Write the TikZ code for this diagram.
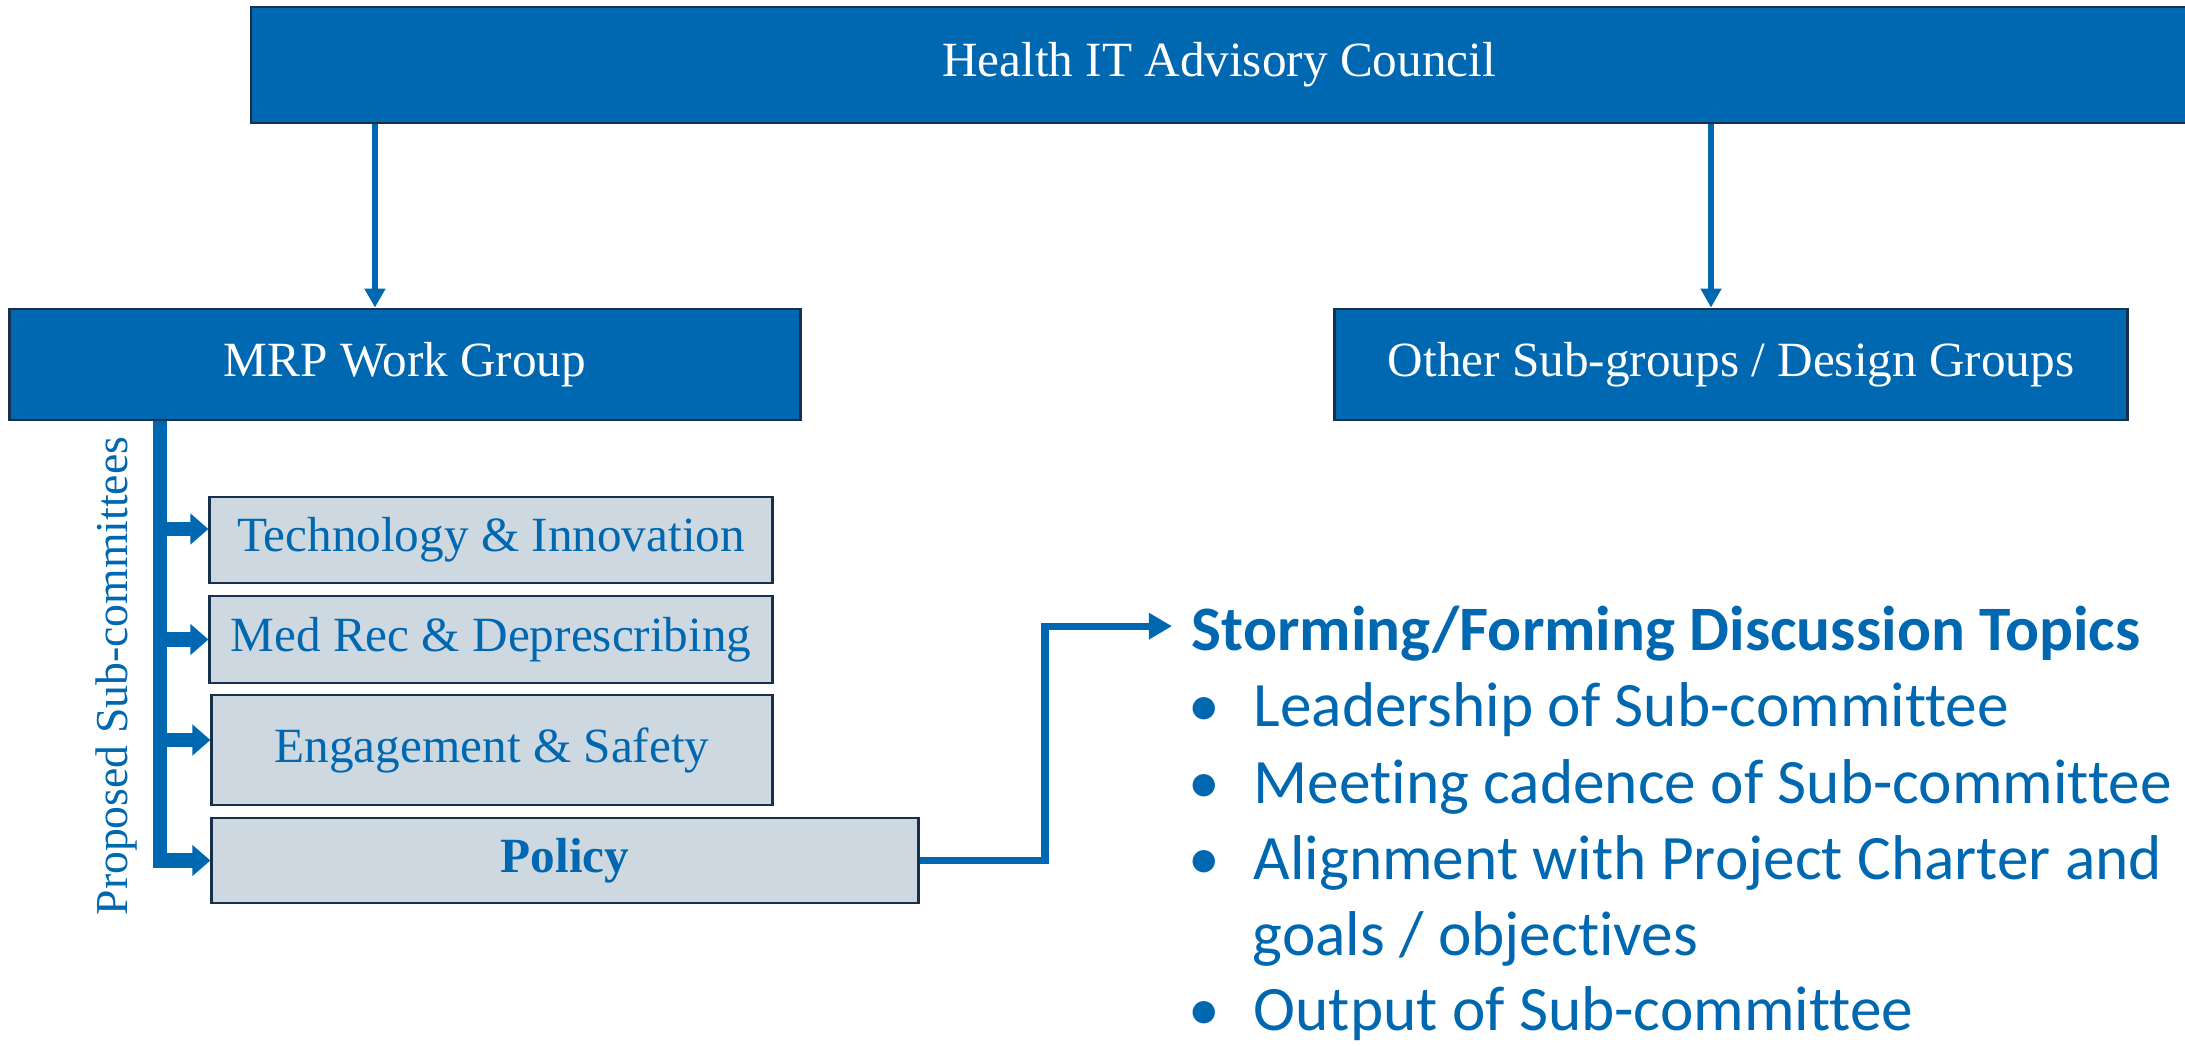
\documentclass[tikz,border=0pt]{standalone}
\usepackage{fontspec}
\setmainfont{Liberation Serif}
\newfontfamily\topicfont{Carlito}[Ligatures=NoCommon]
\usetikzlibrary{arrows.meta}
\definecolor{hitblue}{HTML}{0067B1}
\definecolor{hitgrey}{HTML}{CDD8E0}
\definecolor{hitedge}{HTML}{17304C}
\newcommand\topicdot[1]{\makebox[0.65cm][l]{\textbullet}#1}

\begin{document}
\begin{tikzpicture}[x=0.01cm, y=-0.01cm,
		orgbox/.style={draw=hitedge, fill=hitblue, text=white, line width=0.8pt, inner sep=0pt, font=\fontsize{14}{17}\selectfont},
		subbox/.style={draw=hitedge, fill=hitgrey, text=hitblue, line width=0.8pt, inner sep=0pt, font=\fontsize{14}{17}\selectfont},
		link/.style={draw=hitblue, line width=1.7pt, -{Triangle[width=0.2cm, length=0.19cm]}},
		branch/.style={draw=hitblue, line width=4.2pt, -{Triangle[width=0.3cm, length=0.18cm]}},
		topic/.style={text=hitblue, inner sep=0pt, anchor=base west, font=\topicfont\fontsize{18}{22}\selectfont}]
		\useasboundingbox (0,0) rectangle (2185,1045);
		\node[orgbox, minimum width=19.35cm, minimum height=1.16cm] (council) at (1219,65) {Health IT Advisory Council};
		\node[orgbox, minimum width=7.9cm, minimum height=1.11cm] (mrp) at (405,364.5) {MRP Work Group};
		\node[orgbox, minimum width=7.92cm, minimum height=1.11cm] (other) at (1731,364.5) {Other Sub-groups / Design Groups};
		\draw[link] ([xshift=-0.3cm]council.south -| mrp) -- ([xshift=-0.3cm]mrp.north);
		\draw[link] ([xshift=-0.2cm]council.south -| other) -- ([xshift=-0.2cm]other.north);
		% sub-committees
		\node[subbox, minimum width=5.62cm, minimum height=0.86cm] (tech) at (491,540) {Technology \& Innovation};
		\node[subbox, minimum width=5.62cm, minimum height=0.87cm] (medrec) at (491,639.5) {Med Rec \& Deprescribing};
		\node[subbox, minimum width=5.6cm, minimum height=1.1cm] (engage) at (492,750) {Engagement \& Safety};
		\node[subbox, minimum width=7.06cm, minimum height=0.85cm, font=\fontsize{14}{17}\selectfont\bfseries] (policy) at (565,860.5) {Policy};
		\node[rotate=90, text=hitblue, font=\fontsize{13}{16}\selectfont] (proposed) at (117,676) {Proposed Sub-committees};
		\coordinate (trunk) at (160,0);
		\coordinate (techin) at ([yshift=0.11cm]tech.west);
		\coordinate (engagein) at ([yshift=0.1cm]engage.west);
		\draw[branch] (mrp.south -| trunk) -- (trunk |- policy.west) -- (policy.west);
		\draw[branch] (trunk |- techin) -- (techin);
		\draw[branch] (trunk |- medrec.west) -- (medrec.west);
		\draw[branch] (trunk |- engagein) -- (engagein);
		% discussion topics
		\node[topic, font=\topicfont\fontsize{18}{22}\selectfont\bfseries] (heading) at (1191,650) {Storming/Forming Discussion Topics};
		\node[topic] (lead) at (1188,726) {\topicdot{Leadership of Sub-committee}};
		\node[topic] (cadence) at (1188,803) {\topicdot{Meeting cadence of Sub-committee}};
		\node[topic] (charter) at (1188,879) {\topicdot{Alignment with Project Charter and}};
		\node[topic] (goals) at (1252,955) {goals / objectives};
		\node[topic] (output) at (1188,1030) {\topicdot{Output of Sub-committee}};
		\coordinate (bend) at (1045,0);
		\coordinate (headin) at ([xshift=-0.19cm, yshift=0.07cm]heading.west);
		\draw[link, line width=2pt, -{Triangle[width=0.25cm, length=0.23cm]}] (policy.east) -- (policy.east -| bend) |- (headin);
	\end{tikzpicture}
\end{document}
